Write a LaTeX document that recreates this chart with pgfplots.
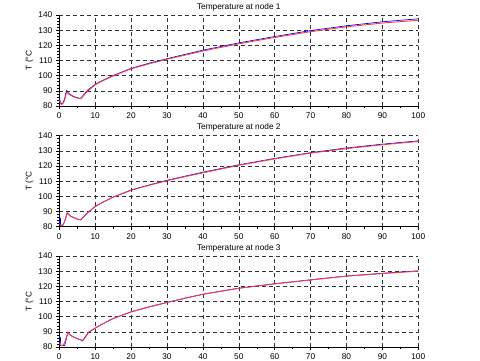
\documentclass[border=0pt]{standalone}
\usepackage{fontspec}
\setmainfont{Liberation Sans}
\usepackage{pgfplots}
\pgfplotsset{compat=1.18}
\definecolor{gridc}{RGB}{50,50,50}
\definecolor{myred}{RGB}{255,60,60}
\pgfplotsset{
  nodeax/.style={
    scale only axis, width=359pt, height=91pt,
    xmin=0, xmax=100, ymin=80, ymax=140,
    xtick={0,10,...,100}, ytick={80,90,...,140},
    minor x tick num=1, minor y tick num=4,
    axis x line*=bottom, axis y line*=left,
    axis line style={-, black, line width=0.6pt},
    xtick pos=bottom, ytick pos=left,
    tick align=outside,
    major tick length=3.5pt, minor tick length=2pt,
    tick style={black, line width=0.5pt},
    grid=major,
    major grid style={gridc, dash pattern=on 4pt off 3pt, line width=0.6pt},
    /pgf/number format/assume math mode=true,
    tick label style={font=\fontsize{8.3}{10}\selectfont},
    label style={font=\fontsize{8.3}{10}\selectfont},
    title style={font=\fontsize{8.3}{10}\selectfont, yshift=-5.5pt},
    ylabel={T (°C},
    ylabel style={at={(axis description cs:-0.083,0.5)}, anchor=center},
    clip=true,
  },
  bl/.style={blue, line width=0.7pt},
  rd/.style={myred, line width=0.9pt},
}
\begin{document}
\begin{tikzpicture}
\useasboundingbox (0pt,0pt) rectangle (480pt,361pt);
% node 1
\begin{axis}[nodeax, at={(59.3pt,255pt)}, anchor=south west, title={Temperature at node 1}]
\addplot[bl] coordinates {(0,86)(0.25,83)(0.5,81.5)(1,82)(1.5,85)(2,90.2)(2.5,88.6)(3,87.6)(4,86.3)(5,85.4)(6,85)(7,88)(8,90.6)(9,92.5)(10,94.2)(12,96.8)(15,100.1)(20,104.8)(25,108.2)(30,111.2)(35,114)(40,116.8)(50,121.6)(60,125.8)(70,129.7)(80,132.9)(90,135.5)(100,137.5)};
\addplot[rd] coordinates {(0,84)(0.3,82)(0.6,81)(1,81.5)(1.5,84)(2,89)(2.5,88.2)(3,87.3)(4,86)(5,85.2)(6,84.8)(7,87.5)(8,90)(9,92)(10,94)(12,96.5)(15,99.8)(20,104.5)(25,107.8)(30,110.8)(35,113.5)(40,116.3)(50,121)(60,125.2)(70,129)(80,132.2)(90,134.7)(100,136.5)};
\end{axis}
% node 2
\begin{axis}[nodeax, at={(59.3pt,134.3pt)}, anchor=south west, title={Temperature at node 2}]
\addplot[bl] coordinates {(0,82)(0.3,86)(0.35,81)(1,81)(1.5,83.5)(2.2,89.2)(3,87.2)(4,86)(5,85)(6,84.5)(7,87)(8,89.5)(10,93.3)(12,96)(15,99.5)(20,104.2)(25,107.5)(30,110.6)(35,113.3)(40,115.9)(50,120.8)(60,125)(70,128.8)(80,131.9)(90,134.4)(100,136.6)};
\addplot[rd] coordinates {(0,82)(0.5,81)(1,81)(1.5,83.5)(2.2,89)(3,87)(4,86)(5,85)(6,84.5)(7,87)(8,89.5)(10,93.3)(12,96)(15,99.5)(20,104)(25,107.3)(30,110.3)(35,113)(40,115.5)(50,120.5)(60,124.7)(70,128.5)(80,131.5)(90,134)(100,136.2)};
\end{axis}
% node 3
\begin{axis}[nodeax, at={(59.3pt,14pt)}, anchor=south west, title={Temperature at node 3}]
\addplot[bl] coordinates {(0,82)(0.3,86.5)(0.4,81)(1.5,81)(2.4,89.7)(3,88)(4,86.6)(5,85.5)(6,84.6)(6.5,84)(7.3,86.5)(8.1,89.5)(10,92.4)(11.4,94.4)(15,98.8)(20,103.2)(25,106.5)(30,109.4)(35,112.2)(40,114.8)(50,118.8)(60,121.7)(70,124.3)(80,126.8)(90,128.6)(100,130.2)};
\addplot[rd] coordinates {(0,82.4)(0.5,81)(1,81)(1.5,83)(2.4,89.5)(3,87.8)(4,86.5)(5,85.5)(6,84.8)(6.5,84.3)(7.3,87)(8.1,89.8)(10,92.5)(11.4,94.4)(15,98.8)(20,103.1)(25,106.4)(30,109.3)(35,112.1)(40,114.7)(50,118.7)(60,121.6)(70,124.2)(80,126.7)(90,128.4)(100,130)};
\end{axis}
\end{tikzpicture}
\end{document}
